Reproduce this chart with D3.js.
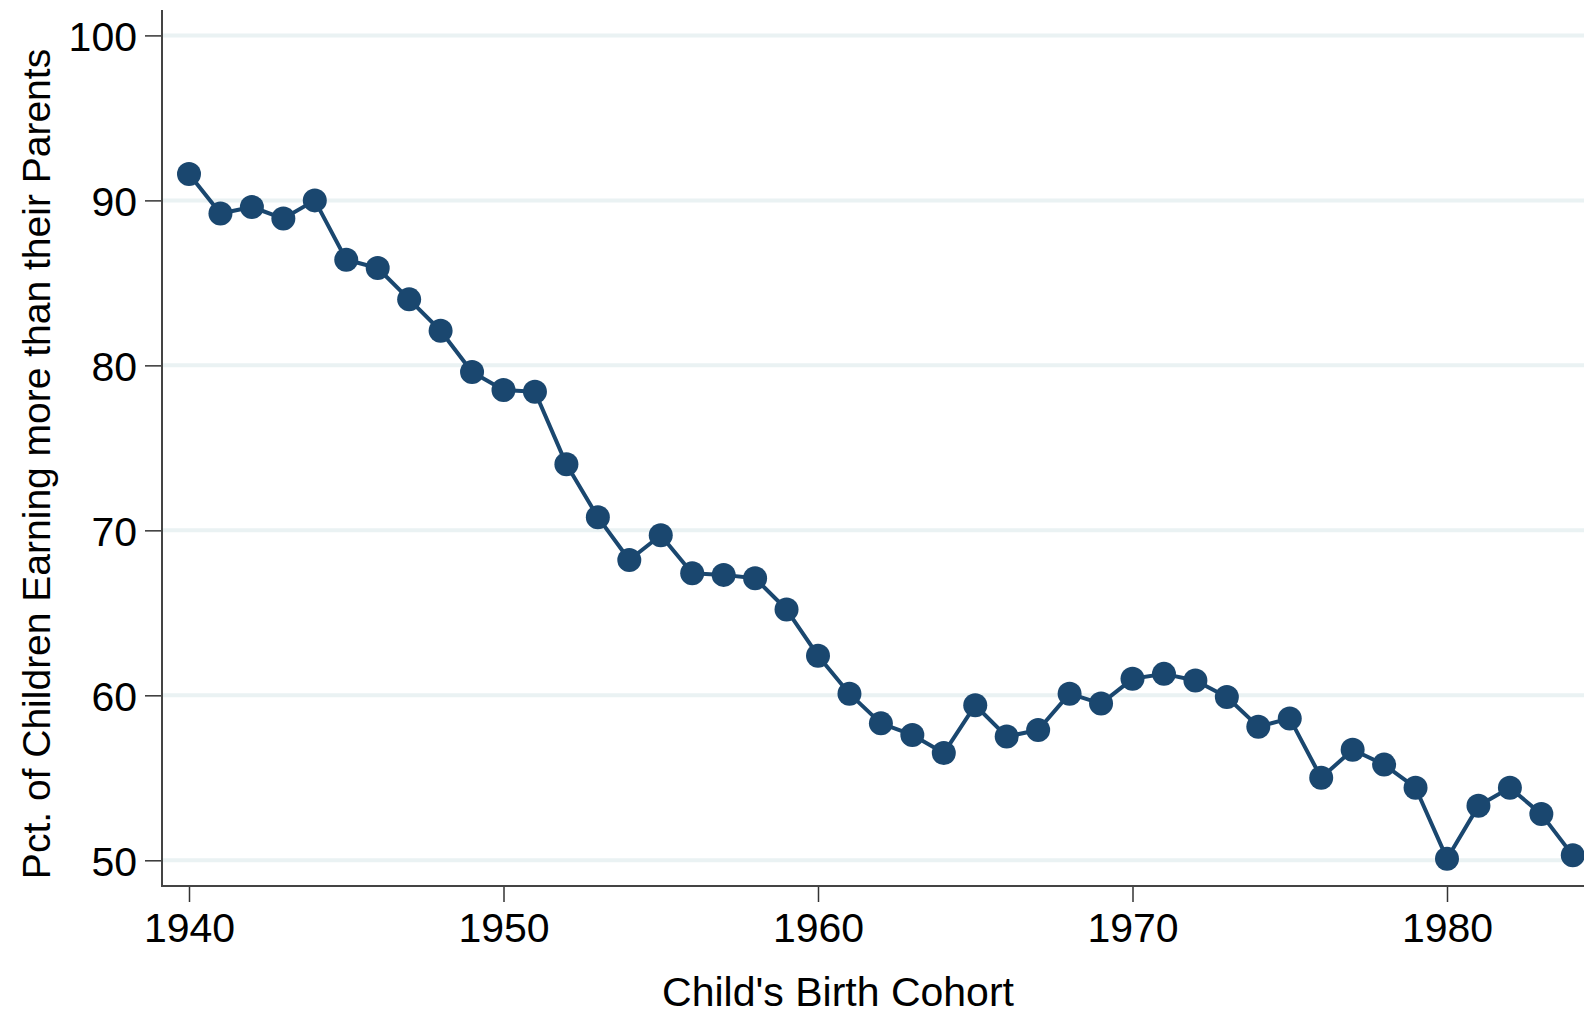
<!DOCTYPE html>
<html>
<head>
<meta charset="utf-8">
<script src="https://cdn.jsdelivr.net/npm/d3@7"></script>
<style>
  html, body { margin: 0; padding: 0; background: #ffffff; }
  svg { display: block; font-family: "Liberation Sans", Arial, sans-serif; }
</style>
</head>
<body>
<svg id="chart" width="1584" height="1016"></svg>
<script>
const years = [1940,1941,1942,1943,1944,1945,1946,1947,1948,1949,
               1950,1951,1952,1953,1954,1955,1956,1957,1958,1959,
               1960,1961,1962,1963,1964,1965,1966,1967,1968,1969,
               1970,1971,1972,1973,1974,1975,1976,1977,1978,1979,
               1980,1981,1982,1983,1984];
const pctEarningMore = [91.6,89.2,89.6,88.9,90.0,86.4,85.9,84.0,82.1,79.6,
                        78.5,78.4,74.0,70.8,68.2,69.7,67.4,67.3,67.1,65.2,
                        62.4,60.1,58.3,57.6,56.5,59.4,57.5,57.9,60.1,59.5,
                        61.0,61.3,60.9,59.9,58.1,58.6,55.0,56.7,55.8,54.4,
                        50.1,53.3,54.4,52.8,50.3];
const xTicks = [1940, 1950, 1960, 1970, 1980];
const yTicks = [50, 60, 70, 80, 90, 100];
const xTitle = "Child's Birth Cohort";
const yTitle = "Pct. of Children Earning more than their Parents";

const W = 1584, H = 1016;
const axisX = 162, axisY = 886, axisTop = 10;
const navy = "#1a476f";

const svg = d3.select("#chart");

const x = d3.scaleLinear().domain([1940, 1980]).range([189, 1447]);
const y = d3.scaleLinear().domain([50, 100]).range([860.3, 35.4]);

// gridlines
svg.append("g").selectAll("line").data(yTicks).join("line")
  .attr("x1", axisX + 1).attr("x2", W)
  .attr("y1", d => y(d)).attr("y2", d => y(d))
  .attr("stroke", "#eaf2f3").attr("stroke-width", 4);

// y axis
const yAxis = d3.axisLeft(y).tickValues(yTicks).tickSize(17).tickPadding(8).tickFormat(d3.format("d"));
const gy = svg.append("g").attr("transform", `translate(${axisX},0)`).call(yAxis);
gy.select(".domain").remove();
gy.selectAll(".tick line").attr("stroke", "#333").attr("stroke-width", 1.5);
gy.selectAll(".tick text").attr("fill", "#000").style("font-size", "41px")
  .style("font-family", "'Liberation Sans', Arial, sans-serif").attr("dy", "0.36em");
svg.append("line").attr("x1", axisX).attr("x2", axisX).attr("y1", axisTop).attr("y2", axisY + 1)
  .attr("stroke", "#444").attr("stroke-width", 2);

// x axis
const xAxis = d3.axisBottom(x).tickValues(xTicks).tickSize(16).tickPadding(10).tickFormat(d3.format("d"));
const gx = svg.append("g").attr("transform", `translate(0,${axisY})`).call(xAxis);
gx.select(".domain").remove();
gx.selectAll(".tick line").attr("stroke", "#333").attr("stroke-width", 1.5);
gx.selectAll(".tick text").attr("fill", "#000").style("font-size", "41px")
  .style("font-family", "'Liberation Sans', Arial, sans-serif").attr("dy", "0.73em");
svg.append("line").attr("x1", axisX).attr("x2", W).attr("y1", axisY).attr("y2", axisY)
  .attr("stroke", "#444").attr("stroke-width", 2);

// data
const data = years.map((yr, i) => ({ yr, v: pctEarningMore[i] }));
const line = d3.line().x(d => x(d.yr)).y(d => y(d.v));
svg.append("path").datum(data).attr("d", line)
  .attr("fill", "none").attr("stroke", navy).attr("stroke-width", 4).attr("stroke-linejoin", "round");
svg.append("g").selectAll("circle").data(data).join("circle")
  .attr("cx", d => x(d.yr)).attr("cy", d => y(d.v)).attr("r", 12).attr("fill", navy);

// titles
svg.append("text").attr("x", 838).attr("y", 1006).attr("text-anchor", "middle")
  .style("font-size", "41px").attr("fill", "#000").text(xTitle);
svg.append("text").attr("transform", "translate(50,464) rotate(-90)").attr("text-anchor", "middle")
  .style("font-size", "39px").attr("fill", "#000").text(yTitle);
</script>
</body>
</html>
